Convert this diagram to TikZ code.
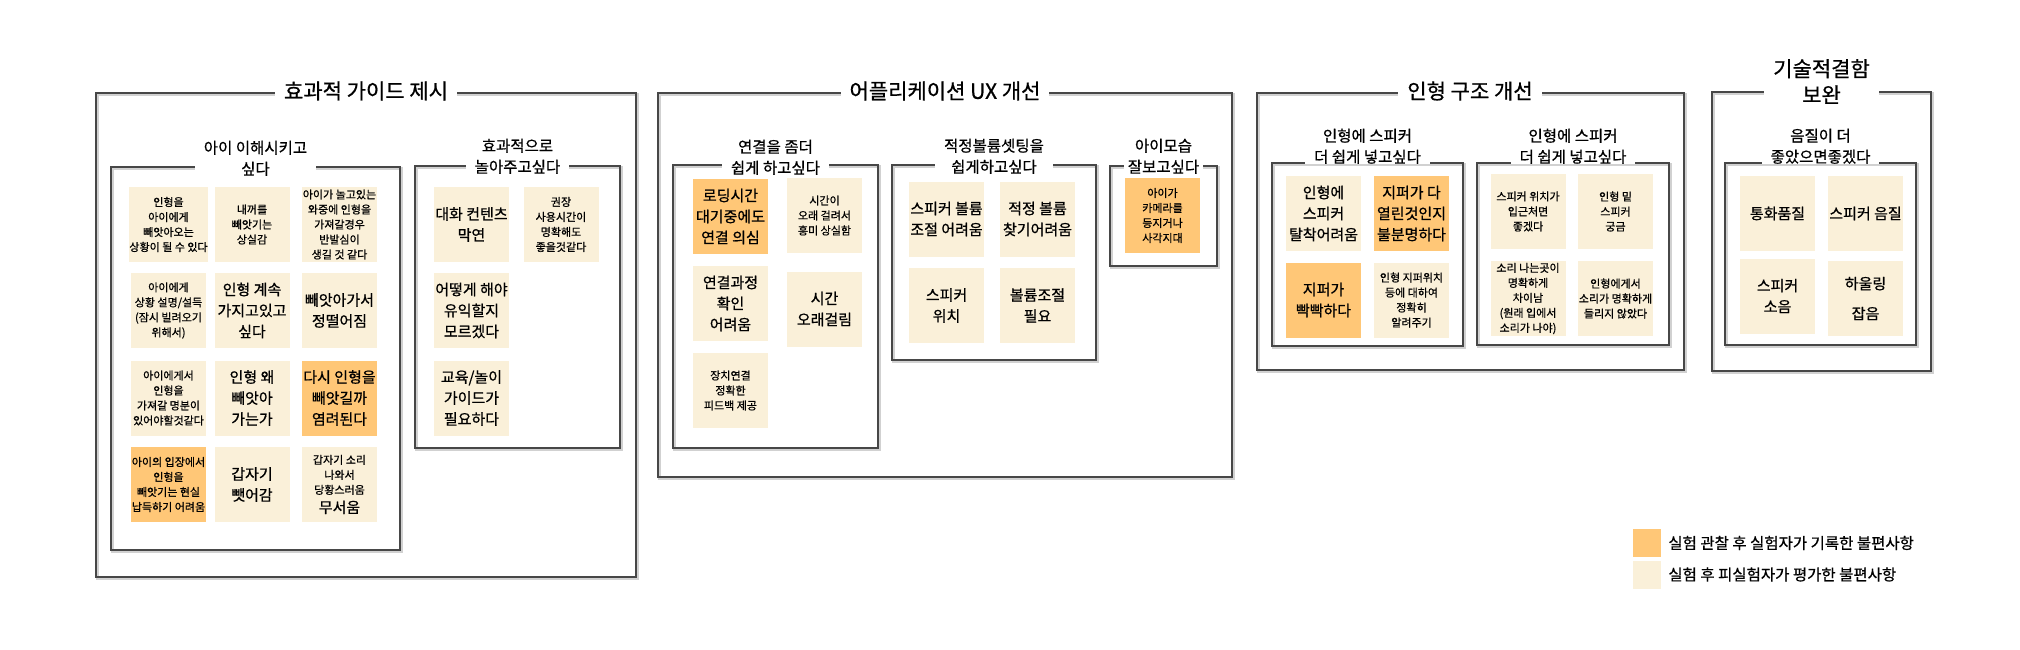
\documentclass[tikz,border=0pt]{standalone}
\usepackage{fontspec}
\setmainfont{Noto Sans CJK KR}[RawFeature=+palt, FakeBold=0.7]
\usepackage{tikz}
\definecolor{obscol}{HTML}{FFC777}
\definecolor{evalcol}{HTML}{FAF0D9}
\newcommand{\notebig}{\fontsize{15}{21}\selectfont}
\tikzset{
  grpframe/.style={draw=black!72, line width=2.4pt,
    preaction={draw=black!18, line width=2.4pt, transform canvas={xshift=1.6pt, yshift=-1.6pt}}},
  note/.style={fill=evalcol, minimum width=75pt, minimum height=75pt, inner sep=0pt,
    align=center, font=\fontsize{11}{15}\selectfont},
  bigtxt/.style={font=\notebig},
  hot/.style={fill=obscol},
  grphead/.style={fill=white, inner xsep=9pt, inner ysep=0pt, font=\fontsize{21}{26}\selectfont},
  subhead/.style={fill=white, inner xsep=9pt, inner ysep=0pt, align=center, anchor=south,
    font=\fontsize{15.5}{21}\selectfont},
}

\begin{document}
\begin{tikzpicture}[x=1pt, y=-1pt]
        \useasboundingbox (0,0) rectangle (2020,650);
        % frames
        \draw [grpframe] (96,93) rectangle (636,577);
        \draw [grpframe] (111,167) rectangle (400,550);
        \draw [grpframe] (415,166) rectangle (620,448);
        \draw [grpframe] (658,93) rectangle (1232,477);
        \draw [grpframe] (673,165) rectangle (878,448);
        \draw [grpframe] (892,165) rectangle (1096,360);
        \draw [grpframe] (1110,166) rectangle (1217,266);
        \draw [grpframe] (1257,93) rectangle (1684,370);
        \draw [grpframe] (1272,163) rectangle (1463,346);
        \draw [grpframe] (1477,163) rectangle (1669,345);
        \draw [grpframe] (1712,92) rectangle (1931,371);
        \draw [grpframe] (1725,163) rectangle (1916,345);
        % titles
        \node [grphead] (G1) at (366,91) {효과적 가이드 제시};
        \node [grphead] (G2) at (945,91) {어플리케이션 UX 개선};
        \node [grphead] (G3) at (1470,91) {인형 구조 개선};
        \node [grphead, align=center, anchor=south] (G4) at (1821.5,104) {기술적결함\\보완};
        \node [subhead] (H1) at (255.5,176) {아이 이해시키고\\싶다};
        \node [subhead] (H2) at (517.5,174) {효과적으로\\놀아주고싶다};
        \node [subhead] (H3) at (775.5,175) {연결을 좀더\\쉽게 하고싶다};
        \node [subhead] (H4) at (994,174) {적정볼륨셋팅을\\쉽게하고싶다};
        \node [subhead, inner xsep=4pt] (H5) at (1163.5,174) {아이모습\\잘보고싶다};
        \node [subhead] (H6) at (1367.5,164) {인형에 스피커\\더 쉽게 넣고싶다};
        \node [subhead] (H7) at (1573,164) {인형에 스피커\\더 쉽게 넣고싶다};
        \node [subhead] (H8) at (1820.5,164) {음질이 더\\좋았으면좋겠다};
        % 아이 이해시키고 싶다
        \node [note] (K11) at (168.5,224.5) {인형을\\아이에게\\빼앗아오는\\상황이 될 수 있다};
        \node [note] (K12) at (252,224.5) {내꺼를\\빼앗기는\\상실감};
        \node [note] (K13) at (339.5,224.5) {아이가 놀고있는\\와중에 인형을\\가져갈경우\\반발심이\\생길 것 같다};
        \node [note] (K21) at (168.5,310.5) {아이에게\\상황 설명/설득\\(잠시 빌려오기\\위해서)};
        \node [note, bigtxt] (K22) at (252,310.5) {인형 계속\\가지고있고\\싶다};
        \node [note, bigtxt] (K23) at (339.5,310.5) {빼앗아가서\\정떨어짐};
        \node [note] (K31) at (168.5,398) {아이에게서\\인형을\\가져갈 명분이\\있어야할것같다};
        \node [note, bigtxt] (K32) at (252,398) {인형 왜\\빼앗아\\가는가};
        \node [note, bigtxt, hot] (K33) at (339.5,398) {다시 인형을\\빼앗길까\\염려된다};
        \node [note, hot] (K41) at (168.5,484.5) {아이의 입장에서\\인형을\\빼앗기는 현실\\납득하기 어려움};
        \node [note, bigtxt] (K42) at (252,484.5) {갑자기\\뺏어감};
        \node [note] (K43) at (339.5,484.5) {갑자기 소리\\나와서\\당황스러움\\[4pt]{\notebig 무서움}};
        % 효과적으로 놀아주고싶다
        \node [note, bigtxt] (P11) at (471.5,224.5) {대화 컨텐츠\\막연};
        \node [note] (P12) at (561,224.5) {권장\\사용시간이\\명확해도\\좋을것같다};
        \node [note, bigtxt] (P21) at (471.5,310.5) {어떻게 해야\\유익할지\\모르겠다};
        \node [note, bigtxt] (P31) at (471.5,398) {교육/놀이\\가이드가\\필요하다};
        % 연결을 좀더 쉽게 하고싶다
        \node [note, bigtxt, hot] (L11) at (730.5,216.5) {로딩시간\\대기중에도\\연결 의심};
        \node [note] (L12) at (824.5,215.5) {시간이\\오래 걸려서\\흥미 상실함};
        \node [note, bigtxt] (L21) at (730.5,303.5) {연결과정\\확인\\어려움};
        \node [note, bigtxt] (L22) at (824.5,309) {시간\\오래걸림};
        \node [note] (L31) at (730.5,390.5) {장치연결\\정확한\\피드백 제공};
        % 적정볼륨셋팅을 쉽게하고싶다
        \node [note, bigtxt] (V11) at (946.5,219) {스피커 볼륨\\조절 어려움};
        \node [note, bigtxt] (V12) at (1037.5,219) {적정 볼륨\\찾기어려움};
        \node [note, bigtxt] (V21) at (946.5,305.5) {스피커\\위치};
        \node [note, bigtxt] (V22) at (1037.5,305.5) {볼륨조절\\필요};
        % 아이모습 잘보고싶다
        \node [note, hot] (M11) at (1162.5,215.5) {아이가\\카메라를\\등지거나\\사각지대};
        % 인형에 스피커 더 쉽게 넣고싶다
        \node [note, bigtxt] (S11) at (1323.5,213.5) {인형에\\스피커\\탈착어려움};
        \node [note, bigtxt, hot] (S12) at (1411.5,213.5) {지퍼가 다\\열린것인지\\불분명하다};
        \node [note, bigtxt, hot] (S21) at (1323.5,300) {지퍼가\\빡빡하다};
        \node [note] (S22) at (1411.5,300) {인형 지퍼위치\\등에 대하여\\정확히\\알려주기};
        \node [note] (T11) at (1528,211.5) {스피커 위치가\\입근처면\\좋겠다};
        \node [note] (T12) at (1615.5,211.5) {인형 밑\\스피커\\궁금};
        \node [note] (T21) at (1528,298.5) {소리 나는곳이\\명확하게\\차이남\\(원래 입에서\\소리가 나야)};
        \node [note] (T22) at (1615.5,298.5) {인형에게서\\소리가 명확하게\\들리지 않았다};
        % 음질이 더 좋았으면좋겠다
        \node [note, bigtxt] (Q11) at (1777.5,213.5) {통화품질};
        \node [note, bigtxt] (Q12) at (1865.5,213.5) {스피커 음질};
        \node [note, bigtxt] (Q21) at (1777.5,296) {스피커\\소음};
        \node [note, bigtxt] (Q22) at (1865.5,298.5) {하울링\\[9pt]잡음};
        % legend
        \node [fill=obscol, minimum size=28pt, inner sep=0pt] (O) at (1647,543) {};
        \node [fill=evalcol, minimum size=28pt, inner sep=0pt] (E) at (1647,574.5) {};
        \node [anchor=west, inner sep=0pt, font=\fontsize{15.5}{18}\selectfont] (OT) at ([xshift=7pt]O.east) {실험 관찰 후 실험자가 기록한 불편사항};
        \node [anchor=west, inner sep=0pt, font=\fontsize{15.5}{18}\selectfont] (ET) at ([xshift=7pt]E.east) {실험 후 피실험자가 평가한 불편사항};
\end{tikzpicture}
\end{document}
